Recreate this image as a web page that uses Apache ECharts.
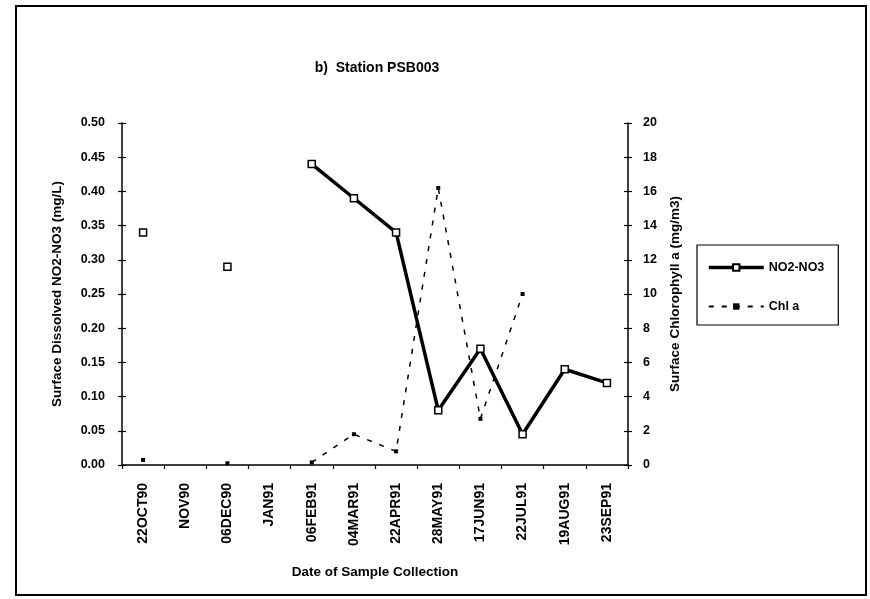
<!DOCTYPE html>
<html>
<head>
<meta charset="utf-8">
<script src="https://cdn.jsdelivr.net/npm/echarts@6/dist/echarts.min.js"></script>
<style>html,body{margin:0;padding:0;background:#fff}#c{width:870px;height:599px}</style>
</head>
<body>
<div id="c"></div>
<script>
const categories = ['22OCT90','NOV90','06DEC90','JAN91','06FEB91','04MAR91','22APR91','28MAY91','17JUN91','22JUL91','19AUG91','23SEP91'];
const no2no3 = [0.34, null, 0.29, null, 0.44, 0.39, 0.34, 0.08, 0.17, 0.045, 0.14, 0.12];
const chla = [0.3, null, 0.1, null, 0.15, 1.8, 0.8, 16.2, 2.7, 10.0, null, null];
const leftTicks = {min: 0, max: 0.5, interval: 0.05};
const rightTicks = {min: 0, max: 20, interval: 2};

const FONT = 'Liberation Sans, Arial, sans-serif';
const GRID = {left: 122, top: 123, width: 506, height: 342};
const chart = echarts.init(document.getElementById('c'), null, {renderer: 'canvas'});
const bold = (s) => ({fontFamily: FONT, fontWeight: 'bold', fontSize: s, color: '#000'});

const hiddenAxisBase = {
  axisLabel: {show: false}, splitLine: {show: false},
  axisLine: {show: false, onZero: false},
  axisTick: {show: true, inside: true, interval: 0, length: 4, lineStyle: {color: '#000', width: 1.2}}
};

chart.setOption({
  backgroundColor: '#fff',
  animation: false,
  title: {
    text: 'b)  Station PSB003',
    left: 372, top: 56, textAlign: 'center',
    textStyle: bold(14)
  },
  grid: Object.assign({outerBoundsMode: 'none', containLabel: false}, GRID),
  legend: {
    orient: 'vertical',
    left: 697, top: 245,
    padding: [16, 14, 12, 10],
    itemWidth: 55, itemHeight: 8, itemGap: 26,
    borderColor: '#000', borderWidth: 1.2,
    textStyle: bold(12.5),
    data: [
      {name: 'NO2-NO3', lineStyle: {width: 3.5}},
      {name: 'Chl a'}
    ]
  },
  graphic: [{
    type: 'rect', silent: true,
    shape: {x: 16, y: 6, width: 850, height: 589},
    style: {fill: 'none', stroke: '#000', lineWidth: 2}
  }],
  xAxis: [{
    type: 'category', data: categories, position: 'bottom', boundaryGap: true,
    axisLine: {lineStyle: {color: '#000', width: 1.5}},
    axisTick: {inside: true, interval: 0, length: 4, lineStyle: {color: '#000', width: 1.2}},
    axisLabel: Object.assign({rotate: 90, margin: 18, interval: 0}, bold(14)),
    name: 'Date of Sample Collection', nameLocation: 'middle', nameGap: 100,
    nameTextStyle: bold(13.5)
  }, Object.assign({
    type: 'category', data: categories, position: 'top', offset: -GRID.height, boundaryGap: true
  }, hiddenAxisBase)],
  yAxis: [{
    type: 'value', position: 'left', min: leftTicks.min, max: leftTicks.max, interval: leftTicks.interval,
    axisLine: {show: true, lineStyle: {color: '#000', width: 1.5}},
    axisTick: {show: true, inside: true, length: 4, lineStyle: {color: '#000', width: 1.2}},
    splitLine: {show: false},
    axisLabel: Object.assign({margin: 17, formatter: (v) => v.toFixed(2)}, bold(12.5)),
    name: 'Surface Dissolved NO2-NO3 (mg/L)', nameLocation: 'middle', nameGap: 58, nameRotate: 90,
    nameTextStyle: bold(13.5)
  }, {
    type: 'value', position: 'right', min: rightTicks.min, max: rightTicks.max, interval: rightTicks.interval,
    axisLine: {show: true, lineStyle: {color: '#000', width: 1.5}},
    axisTick: {show: true, inside: true, length: 4, lineStyle: {color: '#000', width: 1.2}},
    splitLine: {show: false},
    axisLabel: Object.assign({margin: 15}, bold(12.5)),
    name: 'Surface Chlorophyll a (mg/m3)', nameLocation: 'middle', nameGap: 37, nameRotate: 90,
    nameTextStyle: bold(13.5)
  }, Object.assign({
    type: 'value', position: 'right', offset: -GRID.width,
    min: leftTicks.min, max: leftTicks.max, interval: leftTicks.interval
  }, hiddenAxisBase), Object.assign({
    type: 'value', position: 'left', offset: -GRID.width,
    min: rightTicks.min, max: rightTicks.max, interval: rightTicks.interval
  }, hiddenAxisBase)],
  series: [{
    name: 'Chl a', type: 'line', yAxisIndex: 1, data: chla,
    connectNulls: false, showAllSymbol: true,
    symbol: 'rect', symbolSize: 4,
    lineStyle: {color: '#000', width: 1.5, type: [5, 8]},
    itemStyle: {color: '#000'},
    z: 2
  }, {
    name: 'NO2-NO3', type: 'line', yAxisIndex: 0, data: no2no3,
    connectNulls: false, showAllSymbol: true,
    symbol: 'rect', symbolSize: 7,
    lineStyle: {color: '#000', width: 3.5},
    itemStyle: {color: '#fff', borderColor: '#000', borderWidth: 1.5},
    z: 3
  }]
});
</script>
</body>
</html>
